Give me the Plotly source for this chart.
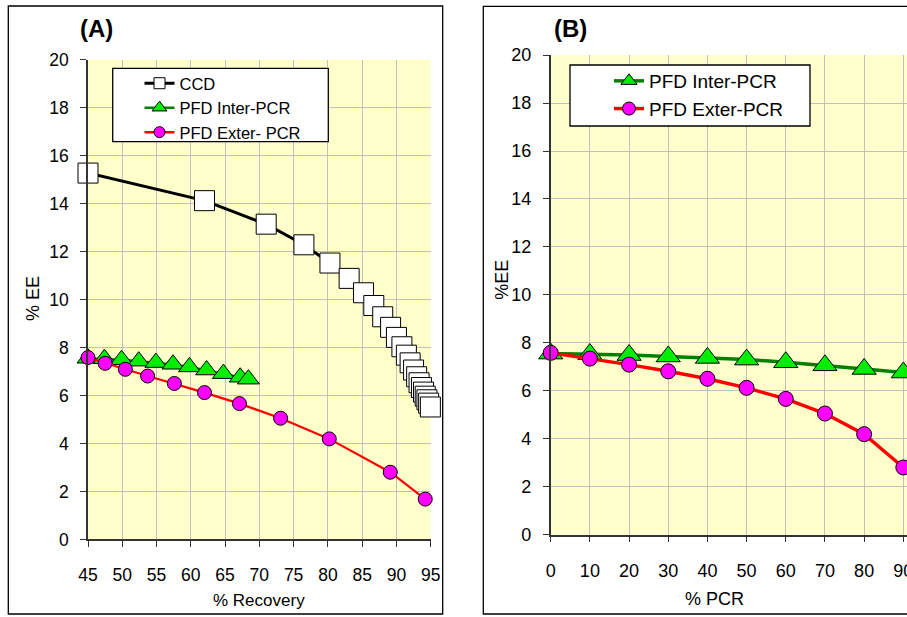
import plotly.graph_objects as go

# ---- Panel A: % EE against % Recovery ----
ccd_recovery = [45.0, 62.0, 71.0, 76.5, 80.3, 83.1, 85.2, 86.7, 88.0, 89.15, 90.0,
                90.8, 91.45, 92.0, 92.5, 92.95, 93.3, 93.65, 93.95, 94.2, 94.45, 94.7, 94.95]
ccd_ee = [15.27, 14.12, 13.14, 12.28, 11.52, 10.88, 10.28, 9.75, 9.28, 8.84, 8.42,
          8.03, 7.68, 7.36, 7.06, 6.78, 6.53, 6.33, 6.14, 5.97, 5.82, 5.68, 5.52]

inter_recovery = [45.0, 47.4, 49.9, 52.4, 54.9, 57.4, 59.8, 62.3, 64.75, 67.2, 68.4]
exter_recovery = [45.0, 47.5, 50.45, 53.7, 57.6, 62.0, 67.1, 73.1, 80.2, 89.1, 94.2]

# ---- Shared % EE values for the PFD configurations ----
inter_ee = [7.55, 7.53, 7.49, 7.43, 7.37, 7.30, 7.19, 7.06, 6.91, 6.76, 6.68]
exter_ee = [7.58, 7.34, 7.09, 6.81, 6.50, 6.12, 5.66, 5.05, 4.19, 2.80, 1.68]

# ---- Panel B: % EE against % PCR ----
pcr = [0, 10, 20, 30, 40, 50, 60, 70, 80, 90, 100]

W, H = 907, 617
FONT = "Liberation Sans, Arial, sans-serif"
YELLOW = "#FFFFCC"
GRID = "#C0C0C0"
AXIS = "#333333"
GREEN_FILL = "#00EE00"
GREEN_LINE = "#008000"
MAGENTA = "#FF00FF"


def px_x(p):
    return p / W


def px_y(p):
    return (H - p) / H


fig = go.Figure()


def series(x, y, name, xa, ya, line_w, symbol, size, fill, line_col):
    fig.add_trace(go.Scatter(
        x=x, y=y, name=name, mode="lines+markers", showlegend=False,
        line=dict(color=line_col, width=line_w),
        marker=dict(symbol=symbol, size=size, color=fill, line=dict(color="black", width=1)),
        cliponaxis=False, xaxis=xa, yaxis=ya))


def legend_entry(name, legend, line_w, symbol, size, fill, line_col, xa, ya):
    # legend-only entry with its own (smaller) key symbol
    fig.add_trace(go.Scatter(
        x=[None], y=[None], name=name, mode="lines+markers", legend=legend,
        line=dict(color=line_col, width=line_w),
        marker=dict(symbol=symbol, size=size, color=fill, line=dict(color="black", width=1)),
        xaxis=xa, yaxis=ya))


# Panel A
series(ccd_recovery, ccd_ee, "CCD", "x", "y", 3, "square", 20, "white", "black")
series(inter_recovery, inter_ee, "PFD Inter-PCR", "x", "y", 2.2, "triangle-up", 19, GREEN_FILL, GREEN_LINE)
series(exter_recovery, exter_ee, "PFD Exter- PCR", "x", "y", 2.2, "circle", 14, MAGENTA, "red")

# Panel B
series(pcr, inter_ee, "PFD Inter-PCR", "x2", "y2", 3.5, "triangle-up", 21, GREEN_FILL, GREEN_LINE)
series(pcr, exter_ee, "PFD Exter-PCR", "x2", "y2", 3.5, "circle", 15, MAGENTA, "red")

legend_entry("CCD", "legend", 2.8, "square", 11, "white", "black", "x", "y")
legend_entry("PFD Inter-PCR", "legend", 2.5, "triangle-up", 13, GREEN_FILL, GREEN_LINE, "x", "y")
legend_entry("PFD Exter- PCR", "legend", 2.5, "circle", 11, MAGENTA, "red", "x", "y")
legend_entry("PFD Inter-PCR", "legend2", 3.5, "triangle-up", 14, GREEN_FILL, GREEN_LINE, "x2", "y2")
legend_entry("PFD Exter-PCR", "legend2", 3.5, "circle", 13, MAGENTA, "red", "x2", "y2")


def axis_style(size):
    return dict(showgrid=True, gridcolor=GRID, gridwidth=1, zeroline=False,
                showline=True, linecolor=AXIS, linewidth=1.6, automargin=False,
                ticks="outside", ticklen=6, tickcolor=AXIS, tickwidth=1.4,
                ticklabeloverflow="allow",
                tickfont=dict(family=FONT, size=size, color="black"))


xa = axis_style(17.5)
xa.update(domain=[px_x(88), px_x(430.7)], range=[45, 95], tick0=45, dtick=5,
          anchor="y", ticklabelstandoff=13)
ya = axis_style(17.5)
ya.update(domain=[px_y(539.4), px_y(59.6)], range=[0, 20], dtick=2,
          anchor="x", ticklabelstandoff=8)
xb = axis_style(18)
xb.update(domain=[px_x(550.7), 1.0], range=[0, 90.94], tick0=0, dtick=10,
          anchor="y2", ticklabelstandoff=13)
yb = axis_style(18)
yb.update(domain=[px_y(534.6), px_y(55.1)], range=[0, 20], dtick=2,
          anchor="x2", ticklabelstandoff=8)

shapes = [
    # panel frames
    dict(type="rect", xref="paper", yref="paper", x0=px_x(8.3), x1=px_x(442.7),
         y0=px_y(614), y1=px_y(6), line=dict(color="black", width=1.3), layer="below"),
    dict(type="rect", xref="paper", yref="paper", x0=px_x(483.3), x1=1.05,
         y0=px_y(614), y1=px_y(6.3), line=dict(color="black", width=1.3), layer="below"),
    # legend boxes
    dict(type="rect", xref="paper", yref="paper", x0=px_x(112.7), x1=px_x(328.3),
         y0=px_y(141.7), y1=px_y(68.3), fillcolor="white",
         line=dict(color="black", width=1.3), layer="above"),
    dict(type="rect", xref="paper", yref="paper", x0=px_x(570), x1=px_x(810),
         y0=px_y(126), y1=px_y(65), fillcolor="white",
         line=dict(color="black", width=1.3), layer="above"),
]


def note(text, x, y, size, angle=0, bold=False):
    return dict(text=f"<b>{text}</b>" if bold else text, xref="paper", yref="paper",
                x=px_x(x), y=px_y(y), xanchor="center", yanchor="middle",
                showarrow=False, textangle=angle,
                font=dict(family=FONT, size=size, color="black"))


annotations = [
    note("(A)", 96.7, 28.3, 24, bold=True),
    note("(B)", 570.5, 28.3, 24, bold=True),
    note("% Recovery", 259.3, 600, 17),
    note("% EE", 33, 299, 18, angle=-90),
    note("% PCR", 714, 599, 18),
    note("%EE", 501.7, 280, 18, angle=-90),
]

fig.update_layout(
    width=W, height=H, autosize=False,
    margin=dict(l=0, r=0, t=0, b=0, pad=0, autoexpand=False),
    paper_bgcolor="white", plot_bgcolor=YELLOW,
    xaxis=xa, yaxis=ya, xaxis2=xb, yaxis2=yb,
    shapes=shapes, annotations=annotations,
    legend=dict(x=px_x(139.5), y=px_y(66), xanchor="left", yanchor="top",
                bgcolor="rgba(0,0,0,0)", borderwidth=0,
                font=dict(family=FONT, size=16.5, color="black")),
    legend2=dict(x=px_x(609), y=px_y(62), xanchor="left", yanchor="top",
                 bgcolor="rgba(0,0,0,0)", borderwidth=0, tracegroupgap=0,
                 font=dict(family=FONT, size=19, color="black")),
    showlegend=True,
)

fig.write_html("out.html")
